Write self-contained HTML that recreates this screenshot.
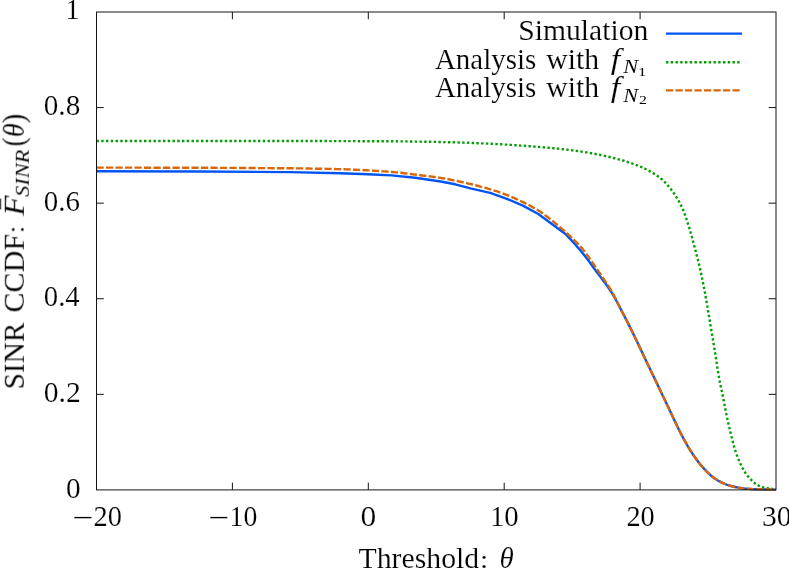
<!DOCTYPE html>
<html><head><meta charset="utf-8"><title>SINR CCDF</title>
<style>
html,body{margin:0;padding:0;background:#fff;}
body{width:789px;height:568px;overflow:hidden;}
svg{display:block;}
text{font-family:"Liberation Serif",serif;font-size:28.4px;fill:#000;stroke:#fff;stroke-width:0.16px;}
.it{font-style:italic;}
</style></head><body>
<svg width="789" height="568" viewBox="0 0 789 568">
<rect width="789" height="568" fill="#fff"/>
<g fill="none" stroke-linejoin="round">
<polyline points="96.5,171.2 200.0,171.5 290.0,172.1 340.7,173.2 368.0,174.2 391.4,175.4 415.3,177.7 440.7,181.5 455.2,184.3 470.4,188.4 490.2,192.8 506.9,198.8 522.9,205.6 538.3,214.0 565.1,233.7 567.1,235.7 569.1,237.8 571.1,239.9 573.1,242.1 575.1,244.3 577.1,246.6 579.1,248.9 581.1,251.3 583.1,253.7 585.1,256.2 587.1,258.9 589.1,261.5 591.1,264.2 593.1,267.0 595.1,269.7 597.1,272.5 599.1,275.1 601.1,277.8 603.1,280.4 605.1,283.1 607.1,285.8 609.1,288.7 611.1,291.7 613.1,295.0 615.1,298.5 617.1,302.2 619.1,306.0 621.1,309.9 623.1,313.7 625.1,317.5 627.1,321.4 629.1,325.4 631.1,329.4 633.1,333.5 635.1,337.6 637.1,341.8 639.1,346.1 641.1,350.3 643.1,354.5 645.1,358.7 647.1,362.9 649.1,367.1 651.1,371.2 653.1,375.4 655.1,379.6 657.1,383.8 659.1,388.0 661.1,392.2 663.1,396.4 665.1,400.6 667.1,404.8 669.1,409.0 671.1,413.2 673.1,417.4 675.1,421.7 677.1,425.9 679.1,430.1 681.1,434.0 683.1,437.8 685.1,441.4 687.1,445.0 689.1,448.4 691.1,451.6 693.1,454.6 695.1,457.5 697.1,460.3 699.1,462.9 701.1,465.4 703.1,467.7 705.1,469.8 707.1,471.9 709.1,473.8 711.1,475.6 713.1,477.2 715.1,478.7 717.1,480.0 719.1,481.2 721.1,482.3 723.1,483.2 725.1,484.0 727.1,484.8 729.1,485.4 731.1,486.0 733.1,486.5 735.1,487.0 737.1,487.4 739.1,487.8 741.1,488.1 743.1,488.4 745.1,488.7 747.1,488.8 749.1,488.9 751.1,489.0 753.1,489.1 755.1,489.2 757.1,489.3 759.1,489.3 761.1,489.4 763.1,489.4 765.1,489.5 767.1,489.5 769.1,489.5 771.1,489.6 773.1,489.6 775.1,489.6 776.0,489.6" stroke="#0054f2" stroke-width="2.4"/>
<polyline points="96.5,141.0 97.5,141.0 98.5,141.0 99.5,141.0 100.5,141.0 101.5,141.0 102.5,141.0 103.5,141.0 104.5,141.0 105.5,141.0 106.5,141.0 107.5,141.0 108.5,141.0 109.5,141.0 110.5,141.0 111.5,141.0 112.5,141.0 113.5,141.0 114.5,141.0 115.5,141.0 116.5,141.0 117.5,141.0 118.5,141.0 119.5,141.0 120.5,141.0 121.5,141.0 122.5,141.0 123.5,141.0 124.5,141.0 125.5,141.0 126.5,141.0 127.5,141.0 128.5,141.0 129.5,141.0 130.5,141.0 131.5,141.0 132.5,141.0 133.5,141.0 134.5,141.0 135.5,141.0 136.5,141.0 137.5,141.0 138.5,141.0 139.5,141.0 140.5,141.0 141.5,141.0 142.5,141.0 143.5,141.0 144.5,141.0 145.5,141.0 146.5,141.0 147.5,141.0 148.5,141.0 149.5,141.0 150.5,141.0 151.5,141.0 152.5,141.0 153.5,141.0 154.5,141.0 155.5,141.0 156.5,141.0 157.5,141.0 158.5,141.0 159.5,141.0 160.5,141.0 161.5,141.0 162.5,141.0 163.5,141.0 164.5,141.0 165.5,141.0 166.5,141.0 167.5,141.0 168.5,141.0 169.5,141.0 170.5,141.0 171.5,141.0 172.5,141.0 173.5,141.0 174.5,141.0 175.5,141.0 176.5,141.0 177.5,141.0 178.5,141.0 179.5,141.0 180.5,141.0 181.5,141.0 182.5,141.0 183.5,141.0 184.5,141.0 185.5,141.0 186.5,141.0 187.5,141.0 188.5,141.0 189.5,141.0 190.5,141.0 191.5,141.0 192.5,141.0 193.5,141.0 194.5,141.0 195.5,141.0 196.5,141.0 197.5,141.0 198.5,141.0 199.5,141.0 200.5,141.0 201.5,141.0 202.5,141.0 203.5,141.0 204.5,141.0 205.5,141.0 206.5,141.0 207.5,141.0 208.5,141.0 209.5,141.0 210.5,141.0 211.5,141.0 212.5,141.0 213.5,141.0 214.5,141.0 215.5,141.0 216.5,141.0 217.5,141.0 218.5,141.0 219.5,141.0 220.5,141.0 221.5,141.0 222.5,141.0 223.5,141.0 224.5,141.0 225.5,141.0 226.5,141.0 227.5,141.0 228.5,141.0 229.5,141.0 230.5,141.0 231.5,141.0 232.5,141.0 233.5,141.0 234.5,141.0 235.5,141.0 236.5,141.0 237.5,141.0 238.5,141.0 239.5,141.0 240.5,141.0 241.5,141.0 242.5,141.0 243.5,141.0 244.5,141.0 245.5,141.0 246.5,141.0 247.5,141.0 248.5,141.0 249.5,141.0 250.5,141.0 251.5,141.0 252.5,141.0 253.5,141.0 254.5,141.0 255.5,141.0 256.5,141.0 257.5,141.0 258.5,141.0 259.5,141.0 260.5,141.0 261.5,141.0 262.5,141.0 263.5,141.0 264.5,141.0 265.5,141.0 266.5,141.0 267.5,141.0 268.5,141.0 269.5,141.0 270.5,141.0 271.5,141.0 272.5,141.0 273.5,141.0 274.5,141.0 275.5,141.0 276.5,141.0 277.5,141.0 278.5,141.0 279.5,141.0 280.5,141.0 281.5,141.0 282.5,141.0 283.5,141.0 284.5,141.0 285.5,141.0 286.5,141.0 287.5,141.0 288.5,141.0 289.5,141.0 290.5,141.0 291.5,141.0 292.5,141.0 293.5,141.0 294.5,141.0 295.5,141.0 296.5,141.0 297.5,141.0 298.5,141.0 299.5,141.0 300.5,141.0 301.5,141.0 302.5,141.0 303.5,141.0 304.5,141.0 305.5,141.0 306.5,141.0 307.5,141.0 308.5,141.0 309.5,141.0 310.5,141.0 311.5,141.0 312.5,141.0 313.5,141.0 314.5,141.0 315.5,141.0 316.5,141.0 317.5,141.0 318.5,141.0 319.5,141.0 320.5,141.0 321.5,141.0 322.5,141.0 323.5,141.0 324.5,141.0 325.5,141.0 326.5,141.0 327.5,141.0 328.5,141.1 329.5,141.1 330.5,141.1 331.5,141.1 332.5,141.1 333.5,141.1 334.5,141.1 335.5,141.1 336.5,141.1 337.5,141.1 338.5,141.1 339.5,141.1 340.5,141.1 341.5,141.1 342.5,141.1 343.5,141.1 344.5,141.1 345.5,141.1 346.5,141.1 347.5,141.1 348.5,141.1 349.5,141.1 350.5,141.1 351.5,141.1 352.5,141.1 353.5,141.1 354.5,141.1 355.5,141.1 356.5,141.1 357.5,141.1 358.5,141.2 359.5,141.2 360.5,141.2 361.5,141.2 362.5,141.2 363.5,141.2 364.5,141.2 365.5,141.2 366.5,141.2 367.5,141.2 368.5,141.2 369.5,141.2 370.5,141.2 371.5,141.2 372.5,141.2 373.5,141.2 374.5,141.2 375.5,141.2 376.5,141.2 377.5,141.2 378.5,141.2 379.5,141.2 380.5,141.3 381.5,141.3 382.5,141.3 383.5,141.3 384.5,141.3 385.5,141.3 386.5,141.3 387.5,141.3 388.5,141.3 389.5,141.3 390.5,141.3 391.5,141.3 392.5,141.3 393.5,141.3 394.5,141.3 395.5,141.3 396.5,141.3 397.5,141.4 398.5,141.4 399.5,141.4 400.5,141.4 401.5,141.4 402.5,141.4 403.5,141.4 404.5,141.4 405.5,141.4 406.5,141.4 407.5,141.5 408.5,141.5 409.5,141.5 410.5,141.5 411.5,141.5 412.5,141.5 413.5,141.5 414.5,141.5 415.5,141.6 416.5,141.6 417.5,141.6 418.5,141.6 419.5,141.6 420.5,141.6 421.5,141.7 422.5,141.7 423.5,141.7 424.5,141.7 425.5,141.7 426.5,141.7 427.5,141.8 428.5,141.8 429.5,141.8 430.5,141.8 431.5,141.8 432.5,141.8 433.5,141.9 434.5,141.9 435.5,141.9 436.5,141.9 437.5,141.9 438.5,142.0 439.5,142.0 440.5,142.0 441.5,142.0 442.5,142.0 443.5,142.1 444.5,142.1 445.5,142.1 446.5,142.1 447.5,142.2 448.5,142.2 449.5,142.2 450.5,142.2 451.5,142.3 452.5,142.3 453.5,142.3 454.5,142.3 455.5,142.4 456.5,142.4 457.5,142.4 458.5,142.5 459.5,142.5 460.5,142.5 461.5,142.6 462.5,142.6 463.5,142.6 464.5,142.7 465.5,142.7 466.5,142.7 467.5,142.8 468.5,142.8 469.5,142.9 470.5,142.9 471.5,142.9 472.5,143.0 473.5,143.0 474.5,143.1 475.5,143.1 476.5,143.1 477.5,143.2 478.5,143.2 479.5,143.3 480.5,143.3 481.5,143.4 482.5,143.4 483.5,143.4 484.5,143.5 485.5,143.5 486.5,143.6 487.5,143.6 488.5,143.7 489.5,143.7 490.5,143.8 491.5,143.8 492.5,143.9 493.5,143.9 494.5,143.9 495.5,144.0 496.5,144.1 497.5,144.1 498.5,144.2 499.5,144.2 500.5,144.3 501.5,144.3 502.5,144.4 503.5,144.4 504.5,144.5 505.5,144.6 506.5,144.6 507.5,144.7 508.5,144.7 509.5,144.8 510.5,144.9 511.5,144.9 512.5,145.0 513.5,145.1 514.5,145.1 515.5,145.2 516.5,145.3 517.5,145.3 518.5,145.4 519.5,145.5 520.5,145.6 521.5,145.6 522.5,145.7 523.5,145.8 524.5,145.8 525.5,145.9 526.5,146.0 527.5,146.1 528.5,146.1 529.5,146.2 530.5,146.3 531.5,146.4 532.5,146.4 533.5,146.5 534.5,146.6 535.5,146.7 536.5,146.8 537.5,146.8 538.5,146.9 539.5,147.0 540.5,147.1 541.5,147.2 542.5,147.2 543.5,147.3 544.5,147.4 545.5,147.5 546.5,147.6 547.5,147.7 548.5,147.8 549.5,147.8 550.5,147.9 551.5,148.0 552.5,148.1 553.5,148.2 554.5,148.3 555.5,148.4 556.5,148.5 557.5,148.6 558.5,148.7 559.5,148.8 560.5,149.0 561.5,149.1 562.5,149.2 563.5,149.3 564.5,149.4 565.5,149.5 566.5,149.6 567.5,149.8 568.5,149.9 569.5,150.0 570.5,150.1 571.5,150.2 572.5,150.4 573.5,150.5 574.5,150.6 575.5,150.8 576.5,150.9 577.5,151.0 578.5,151.2 579.5,151.3 580.5,151.5 581.5,151.6 582.5,151.8 583.5,151.9 584.5,152.1 585.5,152.2 586.5,152.4 587.5,152.6 588.5,152.7 589.5,152.9 590.5,153.1 591.5,153.2 592.5,153.4 593.5,153.6 594.5,153.8 595.5,154.0 596.5,154.2 597.5,154.4 598.5,154.6 599.5,154.8 600.5,155.0 601.5,155.2 602.5,155.4 603.5,155.6 604.5,155.9 605.5,156.1 606.5,156.3 607.5,156.5 608.5,156.8 609.5,157.0 610.5,157.3 611.5,157.5 612.5,157.7 613.5,158.0 614.5,158.2 615.5,158.5 616.5,158.8 617.5,159.0 618.5,159.3 619.5,159.6 620.5,159.9 621.5,160.2 622.5,160.4 623.5,160.7 624.5,161.0 625.5,161.3 626.5,161.7 627.5,162.0 628.5,162.3 629.5,162.6 630.5,163.0 631.5,163.3 632.5,163.6 633.5,164.0 634.5,164.4 635.5,164.7 636.5,165.1 637.5,165.5 638.5,165.9 639.5,166.3 640.5,166.7 641.5,167.1 642.5,167.6 643.5,168.1 644.5,168.5 645.5,169.0 646.5,169.5 647.5,170.0 648.5,170.6 649.5,171.1 650.5,171.6 651.5,172.2 652.5,172.8 653.5,173.4 654.5,174.0 655.5,174.6 656.5,175.3 657.5,176.0 658.5,176.7 659.5,177.4 660.5,178.2 661.5,179.0 662.5,179.9 663.5,180.8 664.5,181.8 665.5,182.9 666.5,183.9 667.5,185.1 668.5,186.3 669.5,187.5 670.5,188.7 671.5,190.0 672.5,191.4 673.5,192.8 674.5,194.2 675.5,195.7 676.5,197.3 677.5,199.0 678.5,200.7 679.5,202.5 680.5,204.4 681.5,206.4 682.5,208.4 683.5,210.7 684.5,213.3 685.5,216.1 686.5,219.1 687.5,222.2 688.5,225.4 689.5,228.6 690.5,232.0 691.5,235.5 692.5,239.2 693.5,243.0 694.5,246.8 695.5,250.6 696.5,254.4 697.5,258.2 698.5,262.2 699.5,266.3 700.5,270.6 701.5,275.2 702.5,280.0 703.5,285.1 704.5,290.3 705.5,295.7 706.5,301.2 707.5,307.0 708.5,312.9 709.5,319.0 710.5,325.1 711.5,331.1 712.5,337.1 713.5,343.1 714.5,349.1 715.5,355.2 716.5,361.6 717.5,368.2 718.5,374.6 719.5,380.4 720.5,385.3 721.5,389.8 722.5,394.5 723.5,399.5 724.5,404.7 725.5,409.8 726.5,414.7 727.5,419.4 728.5,423.9 729.5,428.3 730.5,432.6 731.5,436.6 732.5,440.7 733.5,444.5 734.5,448.1 735.5,451.2 736.5,454.2 737.5,456.9 738.5,459.4 739.5,461.8 740.5,464.0 741.5,466.1 742.5,468.0 743.5,469.8 744.5,471.5 745.5,473.0 746.5,474.4 747.5,475.7 748.5,477.0 749.5,478.1 750.5,479.2 751.5,480.2 752.5,481.2 753.5,482.1 754.5,482.9 755.5,483.8 756.5,484.5 757.5,485.1 758.5,485.6 759.5,486.0 760.5,486.4 761.5,486.8 762.5,487.1 763.5,487.4 764.5,487.6 765.5,487.8 766.5,488.0 767.5,488.2 768.5,488.4 769.5,488.5 770.5,488.7 771.5,488.8 772.5,489.0 773.5,489.1 774.5,489.1 775.5,489.2 776.0,489.2" stroke="#00a000" stroke-width="2.4" stroke-dasharray="2.4 2.35"/>
<polyline points="96.5,167.6 98.5,167.6 100.5,167.6 102.5,167.6 104.5,167.6 106.5,167.6 108.5,167.6 110.5,167.6 112.5,167.6 114.5,167.6 116.5,167.6 118.5,167.6 120.5,167.6 122.5,167.6 124.5,167.6 126.5,167.6 128.5,167.6 130.5,167.6 132.5,167.6 134.5,167.6 136.5,167.6 138.5,167.6 140.5,167.6 142.5,167.7 144.5,167.7 146.5,167.7 148.5,167.7 150.5,167.7 152.5,167.7 154.5,167.7 156.5,167.7 158.5,167.7 160.5,167.7 162.5,167.7 164.5,167.7 166.5,167.7 168.5,167.7 170.5,167.7 172.5,167.7 174.5,167.7 176.5,167.7 178.5,167.7 180.5,167.7 182.5,167.7 184.5,167.8 186.5,167.8 188.5,167.8 190.5,167.8 192.5,167.8 194.5,167.8 196.5,167.8 198.5,167.8 200.5,167.8 202.5,167.8 204.5,167.8 206.5,167.8 208.5,167.8 210.5,167.8 212.5,167.8 214.5,167.8 216.5,167.9 218.5,167.9 220.5,167.9 222.5,167.9 224.5,167.9 226.5,167.9 228.5,167.9 230.5,167.9 232.5,167.9 234.5,167.9 236.5,167.9 238.5,167.9 240.5,168.0 242.5,168.0 244.5,168.0 246.5,168.0 248.5,168.0 250.5,168.0 252.5,168.0 254.5,168.0 256.5,168.0 258.5,168.1 260.5,168.1 262.5,168.1 264.5,168.1 266.5,168.1 268.5,168.1 270.5,168.1 272.5,168.2 274.5,168.2 276.5,168.2 278.5,168.2 280.5,168.2 282.5,168.2 284.5,168.3 286.5,168.3 288.5,168.3 290.5,168.3 292.5,168.3 294.5,168.3 296.5,168.4 298.5,168.4 300.5,168.4 302.5,168.4 304.5,168.5 306.5,168.5 308.5,168.5 310.5,168.6 312.5,168.6 314.5,168.6 316.5,168.7 318.5,168.7 320.5,168.7 322.5,168.8 324.5,168.8 326.5,168.9 328.5,168.9 330.5,168.9 332.5,169.0 334.5,169.0 336.5,169.1 338.5,169.1 340.5,169.2 342.5,169.2 344.5,169.3 346.5,169.4 348.5,169.4 350.5,169.5 352.5,169.6 354.5,169.7 356.5,169.8 358.5,169.9 360.5,170.0 362.5,170.1 364.5,170.2 366.5,170.3 368.5,170.4 370.5,170.5 372.5,170.6 374.5,170.7 376.5,170.9 378.5,171.0 380.5,171.1 382.5,171.3 384.5,171.4 386.5,171.5 388.5,171.7 390.5,171.8 392.5,172.0 394.5,172.2 396.5,172.4 398.5,172.6 400.5,172.8 402.5,173.0 404.5,173.3 406.5,173.5 408.5,173.8 410.5,174.0 412.5,174.3 414.5,174.5 416.5,174.7 418.5,175.0 420.5,175.2 422.5,175.5 424.5,175.7 426.5,175.9 428.5,176.2 430.5,176.4 432.5,176.7 434.5,177.0 436.5,177.3 438.5,177.6 440.5,177.9 442.5,178.2 444.5,178.5 446.5,178.9 448.5,179.3 450.5,179.7 452.5,180.1 454.5,180.5 456.5,180.9 458.5,181.3 460.5,181.8 462.5,182.2 464.5,182.7 466.5,183.1 468.5,183.6 470.5,184.0 472.5,184.5 474.5,185.0 476.5,185.5 478.5,186.0 480.5,186.6 482.5,187.1 484.5,187.6 486.5,188.2 488.5,188.8 490.5,189.3 492.5,189.9 494.5,190.6 496.5,191.2 498.5,191.9 500.5,192.6 502.5,193.3 504.5,194.1 506.5,194.9 508.5,195.7 510.5,196.5 512.5,197.4 514.5,198.2 516.5,199.1 518.5,200.0 520.5,201.0 522.5,201.9 524.5,202.9 526.5,203.9 528.5,204.9 530.5,206.0 532.5,207.1 534.5,208.2 536.5,209.3 538.5,210.5 540.5,211.8 542.5,213.2 544.5,214.7 546.5,216.2 548.5,217.8 550.5,219.4 552.5,221.0 554.5,222.6 556.5,224.2 558.5,225.9 560.5,227.6 562.5,229.3 564.5,231.0 566.5,232.8 568.5,234.7 570.5,236.5 572.5,238.4 574.5,240.3 576.5,242.3 578.5,244.4 580.5,246.6 582.5,248.9 584.5,251.4 586.5,254.1 588.5,256.9 590.5,259.7 592.5,262.7 594.5,265.6 596.5,268.5 598.5,271.4 600.5,274.3 602.5,277.2 604.5,280.1 606.5,283.1 608.5,286.2 610.5,289.4 612.5,292.8 614.5,296.6 616.5,300.5 618.5,304.6 620.5,308.6 622.5,312.6 624.5,316.4 626.5,320.3 628.5,324.2 630.5,328.2 632.5,332.2 634.5,336.4 636.5,340.6 638.5,344.8 640.5,349.0 642.5,353.2 644.5,357.4 646.5,361.6 648.5,365.8 650.5,370.0 652.5,374.2 654.5,378.4 656.5,382.6 658.5,386.8 660.5,390.9 662.5,395.1 664.5,399.3 666.5,403.5 668.5,407.7 670.5,411.9 672.5,416.2 674.5,420.4 676.5,424.7 678.5,428.8 680.5,432.9 682.5,436.7 684.5,440.4 686.5,443.9 688.5,447.4 690.5,450.7 692.5,453.8 694.5,456.7 696.5,459.5 698.5,462.1 700.5,464.7 702.5,467.0 704.5,469.2 706.5,471.3 708.5,473.3 710.5,475.1 712.5,476.8 714.5,478.2 716.5,479.6 718.5,480.8 720.5,481.9 722.5,482.9 724.5,483.8 726.5,484.6 728.5,485.2 730.5,485.9 732.5,486.4 734.5,486.9 736.5,487.3 738.5,487.7 740.5,488.0 742.5,488.4 744.5,488.6 746.5,488.8 748.5,488.9 750.5,489.0 752.5,489.1 754.5,489.2 756.5,489.2 758.5,489.3 760.5,489.4 762.5,489.4 764.5,489.5 766.5,489.5 768.5,489.5 770.5,489.6 772.5,489.6 774.5,489.6 776.0,489.6" stroke="#d96608" stroke-width="2.4" stroke-dasharray="7.2 2.3"/>
<line x1="666" y1="33.6" x2="742" y2="33.6" stroke="#0054f2" stroke-width="2.4"/>
<line x1="666" y1="62.2" x2="742" y2="62.2" stroke="#00a000" stroke-width="2.4" stroke-dasharray="2.4 2.35"/>
<line x1="666" y1="90.4" x2="742" y2="90.4" stroke="#d96608" stroke-width="2.4" stroke-dasharray="7.2 2.3"/>
</g>
<g stroke="#141414" stroke-width="1" fill="none">
<rect x="96.5" y="12.0" width="679.5" height="477.9"/>
<line x1="232.40" y1="489.9" x2="232.40" y2="482.59999999999997"/><line x1="232.40" y1="12.0" x2="232.40" y2="19.3"/><line x1="368.30" y1="489.9" x2="368.30" y2="482.59999999999997"/><line x1="368.30" y1="12.0" x2="368.30" y2="19.3"/><line x1="504.20" y1="489.9" x2="504.20" y2="482.59999999999997"/><line x1="504.20" y1="12.0" x2="504.20" y2="19.3"/><line x1="640.10" y1="489.9" x2="640.10" y2="482.59999999999997"/><line x1="640.10" y1="12.0" x2="640.10" y2="19.3"/><line x1="96.5" y1="394.32" x2="103.8" y2="394.32"/><line x1="776.0" y1="394.32" x2="768.7" y2="394.32"/><line x1="96.5" y1="298.74" x2="103.8" y2="298.74"/><line x1="776.0" y1="298.74" x2="768.7" y2="298.74"/><line x1="96.5" y1="203.16" x2="103.8" y2="203.16"/><line x1="776.0" y1="203.16" x2="768.7" y2="203.16"/><line x1="96.5" y1="107.58" x2="103.8" y2="107.58"/><line x1="776.0" y1="107.58" x2="768.7" y2="107.58"/>
</g>
<g opacity="0.999">
<text transform="translate(518.21,40.10) scale(1.0446,1.0)">Simulation</text>
<text transform="translate(434.94,68.50) scale(1.0204,1.0)">Analysis</text>
<text transform="translate(546.20,68.50) scale(1.0460,1.0)">with</text>
<text class="it" transform="translate(610.70,68.50) scale(1.2000,1.0)">f</text>
<text class="it" style="font-size:19px;stroke-width:0.06px" transform="translate(623.30,73.30) scale(1.1704,1.0)">N</text>
<text style="font-size:13.4px;stroke-width:0.0px" transform="translate(638.05,75.90) scale(1.2421,1.0)">1</text>
<text transform="translate(434.94,96.80) scale(1.0204,1.0)">Analysis</text>
<text transform="translate(546.20,96.80) scale(1.0460,1.0)">with</text>
<text class="it" transform="translate(610.70,96.80) scale(1.2000,1.0)">f</text>
<text class="it" style="font-size:19px;stroke-width:0.06px" transform="translate(623.30,101.60) scale(1.1704,1.0)">N</text>
<text style="font-size:13.4px;stroke-width:0.0px" transform="translate(639.01,104.20) scale(1.1818,1.0)">2</text>
<text transform="translate(358.58,567.90) scale(1.0477,1.06)">Threshold</text>
<text transform="translate(479.71,567.90) scale(1.1077,0.92)">:</text>
<text class="it" transform="translate(499.47,567.90) scale(1.0213,1.0)">θ</text>
<text transform="translate(43.76,402.02) scale(1.0424,1.065)">0.2</text>
<text transform="translate(43.79,306.44) scale(1.0118,1.065)">0.4</text>
<text transform="translate(43.78,210.86) scale(1.0193,1.065)">0.6</text>
<text transform="translate(43.77,115.28) scale(1.0269,1.065)">0.8</text>
<text transform="translate(65.97,497.50) scale(1.0333,1.065)">0</text>
<text transform="translate(65.62,19.30) scale(0.9900,1.065)">1</text>
<text transform="translate(71.92,527.00) scale(1.3208,1.0)">−</text>
<text transform="translate(93.55,525.90) scale(1.0000,1.065)">20</text>
<text transform="translate(208.04,527.00) scale(1.3057,1.0)">−</text>
<text transform="translate(229.56,525.90) scale(0.9778,1.065)">10</text>
<text transform="translate(360.59,525.90) scale(1.1083,1.065)">0</text>
<text transform="translate(489.96,525.90) scale(1.0141,1.065)">10</text>
<text transform="translate(626.45,525.90) scale(0.9962,1.065)">20</text>
<text transform="translate(761.90,525.90) scale(1.0385,1.065)">30</text>
<g transform="translate(23.8,387.4) rotate(-90)">
<text transform="translate(-2.07,0.00) scale(1.0343,1.03)">SINR</text>
<text transform="translate(74.67,0.00) scale(1.0625,1.03)">CCDF</text>
<text transform="translate(154.32,0.00) scale(0.9231,0.92)">:</text>
<text class="it" transform="translate(171.59,0.00) scale(1.1775,1.04)">F</text>
<text class="it" style="font-size:19px;stroke-width:0.06px" transform="translate(190.51,4.60) scale(1.1797,1.03)">SINR</text>
<text transform="translate(241.11,0.00) scale(0.9517,1.1)">(</text>
<text class="it" transform="translate(250.32,0.00) scale(0.9872,1.0)">θ</text>
<text transform="translate(263.98,0.00) scale(1.0207,1.1)">)</text>
<line x1="178" y1="-23.3" x2="188.8" y2="-23.3" stroke="#000" stroke-width="1.1"/>
</g>
</g>
</svg>
</body></html>
